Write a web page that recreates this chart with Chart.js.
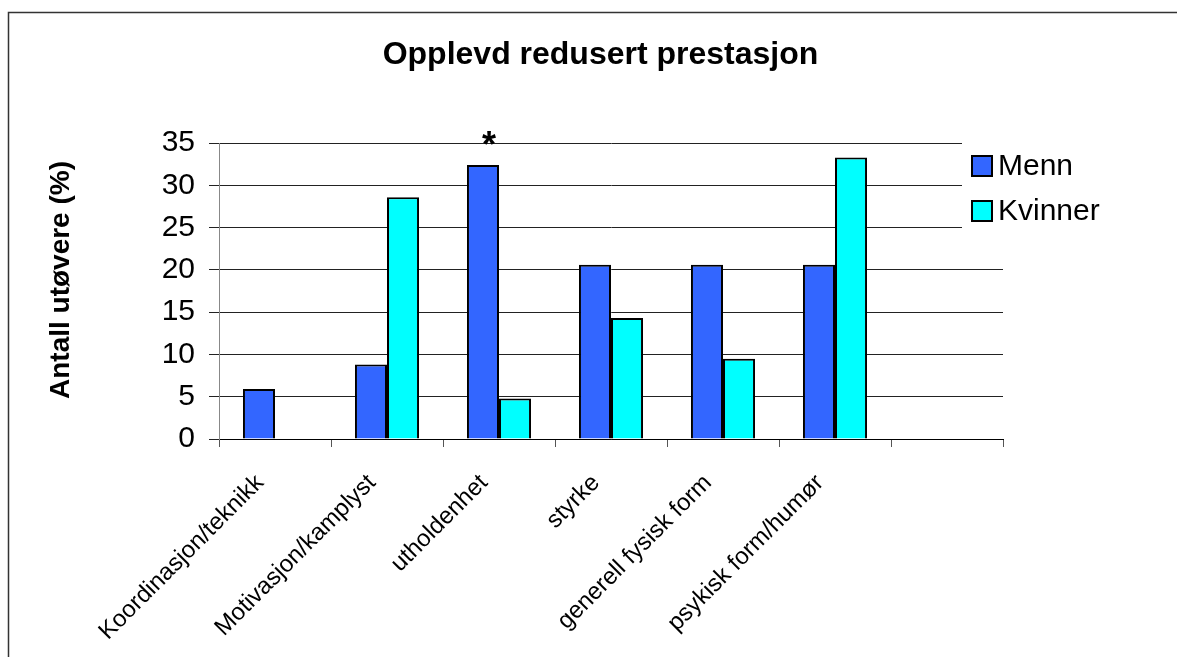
<!DOCTYPE html>
<html>
<head>
<meta charset="utf-8">
<script src="https://cdn.jsdelivr.net/npm/chart.js"></script>
<style>
  html, body { margin: 0; padding: 0; background: #fff; }
</style>
</head>
<body>
<canvas id="prestChart" width="1177" height="657"></canvas>
<script>
// data
const kategorier = ['Koordinasjon/teknikk', 'Motivasjon/kamplyst', 'utholdenhet', 'styrke',
                    'generell fysisk form', 'psykisk form/humør', ''];
const menn = [5.9, 8.8, 32.4, 20.6, 20.6, 20.6, null];
const kvinner = [null, 28.6, 4.8, 14.3, 9.5, 33.3, null];
const stjerne = ['', '', '*', '', '', '', '']; // marks over the Menn bars
const yMin = 0, yMax = 35, yStep = 5;
const yTittel = 'Antall utøvere (%)';

const fontFam = '"Liberation Sans", Arial, sans-serif';
Chart.defaults.font.family = fontFam;
Chart.defaults.color = '#000';

// white background + outer frame
const rammePlugin = {
  id: 'ramme',
  beforeDraw(chart) {
    const ctx = chart.ctx;
    ctx.save();
    ctx.fillStyle = '#fff';
    ctx.fillRect(0, 0, chart.width, chart.height);
    ctx.strokeStyle = '#333';
    ctx.lineWidth = 1.5;
    ctx.strokeRect(8.5, 12.5, chart.width + 20, chart.height + 20);
    ctx.restore();
  }
};

// y axis title, sits a bit above the plot centre in the original
const yTittelPlugin = {
  id: 'yTittel',
  afterDraw(chart) {
    const ctx = chart.ctx;
    const a = chart.chartArea;
    ctx.save();
    ctx.translate(61, (a.top + a.bottom) / 2 - 11);
    ctx.rotate(-Math.PI / 2);
    ctx.fillStyle = '#000';
    ctx.font = 'bold 28px ' + fontFam;
    ctx.textAlign = 'center';
    ctx.textBaseline = 'middle';
    ctx.fillText(yTittel, 0, 0);
    ctx.restore();
  }
};

// asterisk over a bar
const stjernePlugin = {
  id: 'stjerne',
  afterDatasetsDraw(chart) {
    const ctx = chart.ctx;
    const meta = chart.getDatasetMeta(0);
    const yTop = chart.scales.y.getPixelForValue(yMax);
    ctx.save();
    ctx.fillStyle = '#000';
    ctx.font = 'bold 36px ' + fontFam;
    ctx.textAlign = 'center';
    ctx.textBaseline = 'alphabetic';
    stjerne.forEach((s, i) => {
      if (!s) return;
      ctx.fillText(s, meta.data[i].x + 6, yTop + 14);
    });
    ctx.restore();
  }
};

// legend box sitting on top of the plot area, like the original
const legendePlugin = {
  id: 'legende',
  afterDraw(chart) {
    const ctx = chart.ctx;
    const a = chart.chartArea;
    const x0 = a.right - 41;
    ctx.save();
    ctx.fillStyle = '#fff';
    ctx.fillRect(x0, a.top - 5, 170, 102);
    ctx.font = '30px ' + fontFam;
    ctx.textBaseline = 'middle';
    chart.data.datasets.forEach((ds, i) => {
      const y = a.top + 23 + i * 45;
      ctx.fillStyle = ds.backgroundColor;
      ctx.fillRect(x0 + 10, y - 10, 20, 20);
      ctx.strokeStyle = '#000';
      ctx.lineWidth = 2;
      ctx.strokeRect(x0 + 10, y - 10, 20, 20);
      ctx.fillStyle = '#000';
      ctx.fillText(ds.label, x0 + 36, y + 1);
    });
    ctx.restore();
  }
};

const ctx = document.getElementById('prestChart').getContext('2d');
const chart = new Chart(ctx, {
  type: 'bar',
  data: {
    labels: kategorier,
    datasets: [
      { label: 'Menn', data: menn, backgroundColor: '#3366FF', borderColor: '#000', borderWidth: 2,
        categoryPercentage: 0.572, barPercentage: 1 },
      { label: 'Kvinner', data: kvinner, backgroundColor: '#00FFFF', borderColor: '#000', borderWidth: 2,
        categoryPercentage: 0.572, barPercentage: 1 }
    ]
  },
  options: {
    responsive: false,
    animation: false,
    layout: { padding: { left: 24, top: 0, right: 0, bottom: 0 } },
    plugins: {
      legend: { display: false },
      tooltip: { enabled: false },
      title: {
        display: true,
        text: 'Opplevd redusert prestasjon',
        color: '#000',
        font: { size: 32, weight: 'bold' },
        padding: { top: 36, bottom: 68.6 }
      }
    },
    scales: {
      x: {
        grid: { offset: true, drawOnChartArea: false, color: '#555', tickLength: 8 },
        border: { color: '#000', width: 1 },
        ticks: { autoSkip: false, maxRotation: 45, minRotation: 45, padding: 22, labelOffset: -15,
                 font: { size: 24 } },
        afterFit(scale) { scale.height = 218; }
      },
      y: {
        min: yMin, max: yMax,
        grid: { color: '#222', tickLength: 10 },
        border: { color: '#888', width: 1 },
        ticks: { stepSize: yStep, padding: 14, font: { size: 30 } },
        afterFit(scale) { scale.width = 195; }
      },
      // empty space on the right, keeps the plot where the original has it
      tom: {
        type: 'linear', position: 'right', display: true,
        grid: { display: false, drawTicks: false },
        border: { display: false },
        ticks: { display: false },
        afterFit(scale) { scale.width = 174; }
      }
    }
  },
  plugins: [rammePlugin, yTittelPlugin, stjernePlugin, legendePlugin]
});
</script>
</body>
</html>
